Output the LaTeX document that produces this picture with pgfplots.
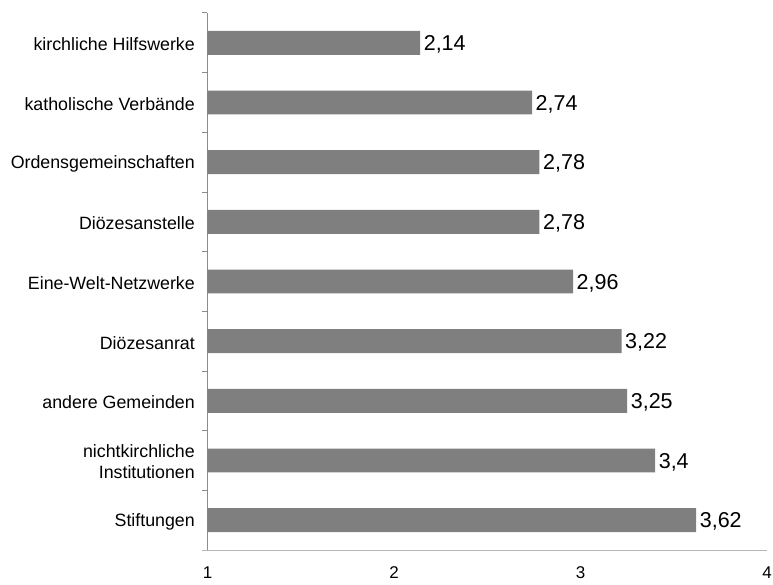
\documentclass[border=0pt]{standalone}
\usepackage{pgfplots}
\pgfplotsset{compat=1.18}
\usepackage{fontspec}
\setmainfont{Liberation Sans}
\definecolor{barcol}{HTML}{7F7F7F}
\definecolor{ylinecol}{HTML}{8C8C8C}
\definecolor{xlinecol}{HTML}{B5B5B5}
\begin{document}
\begin{tikzpicture}
\begin{axis}[
  at={(0,0)}, anchor=south west,
  scale only axis, width=559.5pt, height=537pt,
  xmin=1, xmax=4, ymin=-0.5, ymax=8.5,
  axis lines*=left,
  x axis line style={xlinecol, line width=1pt, shorten <=-5.5pt},
  y axis line style={ylinecol, line width=1pt},
  xtick={1,2,3,4},
  major tick length=0pt,
  ytick={0,...,8},
  yticklabels={Stiftungen,{nichtkirchliche\\Institutionen},andere Gemeinden,Diözesanrat,Eine-Welt-Netzwerke,Diözesanstelle,Ordensgemeinschaften,katholische Verbände,kirchliche Hilfswerke},
  minor ytick={-0.5,0.5,...,8.5},
  minor tick length=5.5pt,
  tick align=outside,
  minor tick style={ylinecol, line width=1pt},
  /pgf/number format/assume math mode=true,
  /pgf/number format/use comma,
  yticklabel style={align=right, font=\fontsize{17.8}{21}\selectfont, inner sep=0pt, xshift=-12.5pt, yshift=-1.5pt},
  xticklabel style={font=\fontsize{17}{20}\selectfont, inner sep=0pt, anchor=north, text height=12pt, text depth=0pt, yshift=-16pt},
  xbar, bar width=0.4, bar shift=0pt,
  nodes near coords,
  nodes near coords style={anchor=west, inner sep=0pt, xshift=3.5pt, text height=15.4pt, text depth=0pt, font=\fontsize{21.5}{24}\selectfont, text=black},
]
\addplot[fill=barcol, draw=none] coordinates {
  (3.62,0) (3.4,1) (3.25,2) (3.22,3) (2.96,4) (2.78,5) (2.78,6) (2.74,7) (2.14,8)
};
\end{axis}
\pgfresetboundingbox
\path (-207.5pt,-34pt) rectangle (565.5pt,550pt);
\end{tikzpicture}
\end{document}
